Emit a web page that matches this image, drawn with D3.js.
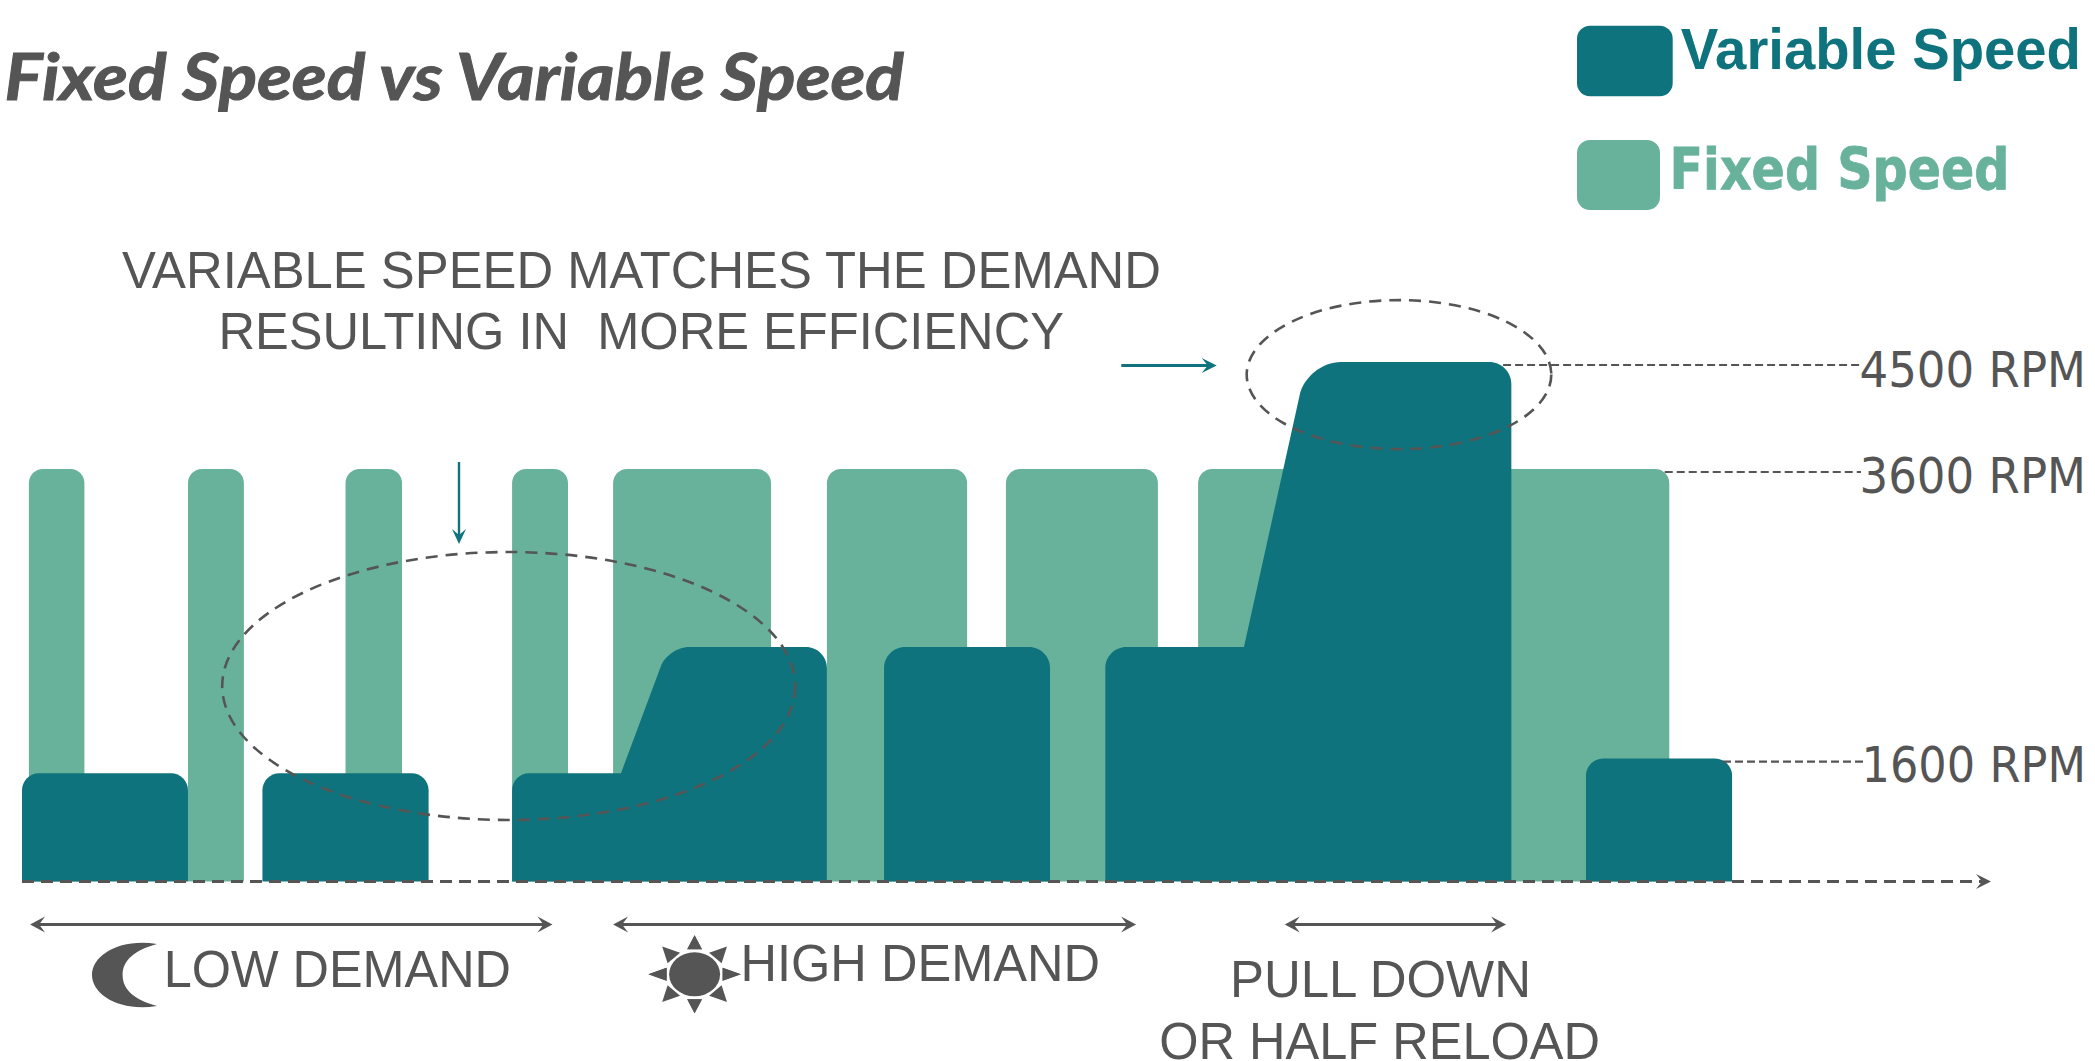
<!DOCTYPE html>
<html><head><meta charset="utf-8">
<script src="https://d3js.org/d3.v7.min.js"></script>
<style>html,body{margin:0;padding:0;background:#fff}svg{display:block}text{white-space:pre}</style>
</head><body><svg id="c" width="2095" height="1061"></svg>
<script>
// time axis is schematic (0-1000), speed in RPM
const fixedRuns = [[3.5,31.7],[84.3,112.7],[164.3,193],[248.9,277.3],[300.2,380.4],[408.8,480],[499.7,576.9],[597.3,836.6]];
const fixedRpm = 3600;
const lowRpm = 1410, midRpm = 2370, peakRpm = 4500, endRpm = 1600;
const variableProfiles = [
  [[0,lowRpm],[84.3,lowRpm]],
  [[122.1,lowRpm],[206.5,lowRpm]],
  [[248.9,lowRpm],[304.2,lowRpm],[328.1,midRpm],[408.8,midRpm]],
  [[437.8,midRpm],[522.1,midRpm]],
  [[550.2,midRpm],[620.6,midRpm],[652.6,peakRpm],[756.4,peakRpm]],
  [[794.3,endRpm],[868.5,endRpm]]
];
const rpmLabels = ["4500 RPM","3600 RPM","1600 RPM"];
const rpmLevels = [4500,3600,1600];
const leaderStarts = [752.2,834.3,863.9];
const demandNames = ["LOW DEMAND","HIGH DEMAND","PULL DOWN"];
const demandRanges = [[4.1,269.4],[300.2,565.8],[641.3,753.7]];

const DARK="#555555", TEAL="#0F737E", GREEN="#68B29C";
const x = d3.scaleLinear().domain([0,1000]).range([22,1991]);
const y = d3.scaleLinear().domain([0,1600,3600,4500]).range([881.5,758.6,469,362]);
const svg = d3.select("#c");

const K=0.55;
function roundedPath(pts,base,radius){
  const p=d3.path();
  const all=[[pts[0][0],base],...pts,[pts[pts.length-1][0],base]];
  p.moveTo(all[0][0],all[0][1]);
  for(let i=1;i<all.length-1;i++){
    const a=all[i-1],b=all[i],c=all[i+1];
    const j=i-1;
    const sharp = j>0 && j<pts.length-1 && pts[j+1][1]<pts[j][1]-1;
    if(sharp){p.lineTo(b[0],b[1]);continue;}
    const r=radius(b[1],j===pts.length-1);
    const d1=Math.hypot(b[0]-a[0],b[1]-a[1]),d2=Math.hypot(c[0]-b[0],c[1]-b[1]);
    const s=[b[0]-(b[0]-a[0])/d1*r,b[1]-(b[1]-a[1])/d1*r];
    const e=[b[0]+(c[0]-b[0])/d2*r,b[1]+(c[1]-b[1])/d2*r];
    p.lineTo(s[0],s[1]);
    p.bezierCurveTo(s[0]+(b[0]-s[0])*K,s[1]+(b[1]-s[1])*K,e[0]+(b[0]-e[0])*K,e[1]+(b[1]-e[1])*K,e[0],e[1]);
  }
  p.lineTo(all[all.length-1][0],all[all.length-1][1]);
  p.closePath();
  return p.toString();
}
// fixed speed bars
svg.append("g").selectAll("path").data(fixedRuns).join("path")
  .attr("fill",GREEN)
  .attr("d",d=>roundedPath([[x(d[0]),y(fixedRpm)],[x(d[1]),y(fixedRpm)]],y(0),()=>14));

// variable speed bars
svg.append("g").selectAll("path").data(variableProfiles).join("path")
  .attr("fill",TEAL)
  .attr("d",d=>roundedPath(d.map(q=>[x(q[0]),y(q[1])]),y(0),(v,last)=>v<400?(last?22:34):(v<700?21:17)));

function head(g,tx,ty,angle,len,hw,notch,fill){
  g.append("path").attr("fill",fill)
   .attr("transform",`translate(${tx},${ty}) rotate(${angle})`)
   .attr("d",`M0,0L${-len},${-hw}L${-notch},0L${-len},${hw}Z`);
}
// axis
const ax=svg.append("g");
ax.append("line").attr("x1",x(0)).attr("x2",x(1000)-6).attr("y1",y(0)).attr("y2",y(0))
  .attr("stroke",DARK).attr("stroke-width",3).attr("stroke-dasharray","12 7");
head(ax,x(1000),y(0),0,15,7.5,9,DARK);

// rpm leaders + labels
const leaderEnds=[1861,1861,1867];
const labelX=[[1859.5,2086],[1859.5,2086],[1861.5,2086]];
const labelBase=[387.3,493,782];
rpmLevels.forEach((v,i)=>{
  svg.append("line").attr("x1",x(leaderStarts[i])).attr("x2",leaderEnds[i])
    .attr("y1",y(v)+3).attr("y2",y(v)+3)
    .attr("stroke",DARK).attr("stroke-width",2.2).attr("stroke-dasharray","8 4");
  svg.append("text").text(rpmLabels[i]).attr("x",labelX[i][1]).attr("y",labelBase[i])
    .attr("text-anchor","end")
    .attr("font-family","DejaVu Sans").attr("font-size",50).attr("fill",DARK)
    .attr("textLength",labelX[i][1]-labelX[i][0]).attr("lengthAdjust","spacingAndGlyphs");
});

// dashed ellipses
[[508.7,686,286.5,134],[1399,374.6,152.3,74.5]].forEach(e=>{
  svg.append("ellipse").attr("cx",e[0]).attr("cy",e[1]).attr("rx",e[2]).attr("ry",e[3])
    .attr("fill","none").attr("stroke",DARK).attr("stroke-width",2.6).attr("stroke-dasharray","12 8");
});

// teal pointers
svg.append("line").attr("x1",459).attr("x2",459).attr("y1",462).attr("y2",536).attr("stroke",TEAL).attr("stroke-width",2.4);
head(svg,459,544,90,15,7,9,TEAL);
svg.append("line").attr("x1",1121.3).attr("x2",1208).attr("y1",365.5).attr("y2",365.5).attr("stroke",TEAL).attr("stroke-width",3);
head(svg,1216.7,365.5,0,15,7.5,9,TEAL);

// demand range arrows
demandRanges.forEach(r=>{
  const a=x(r[0]),b=x(r[1]),yy=924.5;
  svg.append("line").attr("x1",a+6).attr("x2",b-6).attr("y1",yy).attr("y2",yy).attr("stroke",DARK).attr("stroke-width",3);
  head(svg,b,yy,0,15,8,9,DARK);
  head(svg,a,yy,180,15,8,9,DARK);
});

// texts
function label(t,x0,x1,base,size,family,opts={}){
  const n=svg.append("text").text(t).attr("x",x0).attr("y",base).attr("font-size",size)
    .attr("font-family",family).attr("fill",opts.fill||DARK)
    .attr("font-weight",opts.weight||"normal").attr("font-style",opts.style||"normal")
    .attr("textLength",x1-x0).attr("lengthAdjust","spacingAndGlyphs");
  if(opts.bolder) n.attr("stroke",opts.fill||DARK).attr("stroke-width",opts.bolder);
}
const ARIAL="Liberation Sans";
label("Fixed Speed vs Variable Speed",4.5,904,100,65,"Lato",{weight:"bold",style:"italic",bolder:1});
label("VARIABLE SPEED MATCHES THE DEMAND",122,1161,288.3,51,ARIAL);
label("RESULTING IN  MORE EFFICIENCY",218.4,1064,349,51,ARIAL);
label(demandNames[0],163.7,511,986.5,51,ARIAL);
label(demandNames[1],740.5,1100,980.5,51,ARIAL);
label(demandNames[2],1230,1531,996.7,51,ARIAL);
label("OR HALF RELOAD",1159.3,1600,1059.3,51,ARIAL);

// legend
svg.append("rect").attr("x",1577).attr("y",25.7).attr("width",95.7).attr("height",70.6).attr("rx",13).attr("fill",TEAL);
svg.append("rect").attr("x",1577).attr("y",140).attr("width",83).attr("height",70).attr("rx",13).attr("fill",GREEN);
label("Variable Speed",1680.7,2081,68.7,57.7,ARIAL,{weight:"bold",fill:TEAL});
label("Fixed Speed",1669.5,2009.5,189,56.5,"DejaVu Sans",{weight:"bold",fill:GREEN,bolder:0.8});

// moon icon
svg.append("path").attr("fill",DARK)
  .attr("d","M157,944C120,938 92,955 92,975C92,995 120,1012 157,1006C135,1000 122.6,990 122.6,975C122.6,960 135,950 157,944Z");
// sun icon
const sun=svg.append("g").attr("fill",DARK).attr("transform","translate(694.6,974.3)");
sun.append("ellipse").attr("rx",25.5).attr("ry",22);
[[1,1],[1,-1],[-1,1],[-1,-1]].forEach(s=>{
  const g=sun.append("g").attr("transform",`scale(${s[0]},${s[1]})`);
  g.append("path").attr("d","M0,-39L-7.4,-25L7.4,-25Z");
  g.append("path").attr("d","M46.2,0L28,-6.5L28,6.5Z");
  g.append("path").attr("d","M32.4,-27.8L14.5,-21.5L27,-11Z");
});
</script></body></html>
